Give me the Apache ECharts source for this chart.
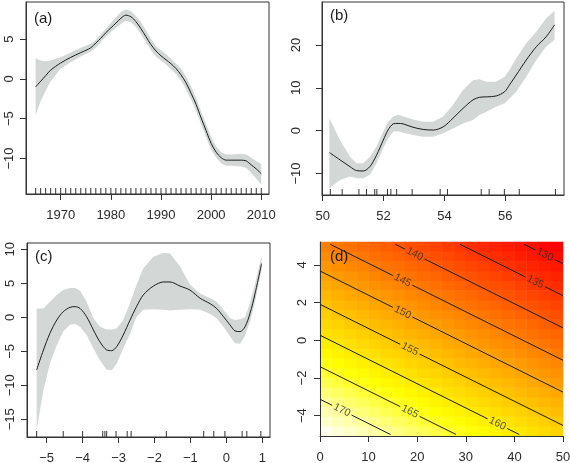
<!DOCTYPE html>
<html><head><meta charset="utf-8">
<script src="https://cdn.jsdelivr.net/npm/echarts@6/dist/echarts.min.js"></script>
<style>html,body{margin:0;padding:0;background:#fff}#c{width:570px;height:463px}</style>
</head><body><div id="c"></div>
<script>
// ---------- Panel (a) ----------
const aYear = [1965,1966,1967,1968,1970,1972,1974,1976,1977,1978,1979,1980,1981,1982,1983,1984,1985,1986,1987,1988,1989,1990,1991,1992,1993,1994,1995,1996,1997,1998,1999,2000,2001,2002,2003,2004,2006,2007,2008,2009,2010];
const aFit  = [-1.0,-0.3,0.4,1.1,2.0,2.7,3.3,3.9,4.5,5.1,5.8,6.4,7.0,7.6,8.0,7.8,7.2,6.3,5.3,4.3,3.5,2.9,2.4,1.9,1.3,0.5,-0.5,-1.8,-3.2,-4.9,-6.5,-8.1,-9.2,-9.9,-10.2,-10.2,-10.2,-10.3,-10.8,-11.3,-11.9];
const aHi   = [2.6,2.3,2.2,2.3,2.7,3.3,3.9,4.4,4.9,5.6,6.3,7.0,7.7,8.4,8.7,8.5,7.9,7.1,6.1,5.0,4.1,3.6,3.1,2.5,1.9,1.3,0.3,-1.0,-2.4,-4.1,-5.7,-7.3,-8.5,-9.2,-9.5,-9.5,-9.4,-9.5,-9.9,-10.3,-10.7];
const aLo   = [-4.5,-2.8,-1.5,-0.3,1.3,2.1,2.8,3.4,3.9,4.6,5.3,5.9,6.4,6.9,7.3,7.1,6.5,5.6,4.6,3.6,2.8,2.3,1.8,1.2,0.6,-0.2,-1.3,-2.6,-4.0,-5.7,-7.3,-8.9,-9.9,-10.6,-10.9,-10.9,-11.0,-11.2,-11.8,-12.5,-13.3];
const aRug  = [1965,1966,1967,1968,1969,1970,1971,1972,1973,1974,1975,1976,1977,1978,1979,1980,1981,1982,1983,1984,1985,1986,1987,1988,1989,1990,1991,1992,1993,1994,1995,1996,1997,1998,1999,2000,2001,2002,2003,2004,2005,2006,2007,2008,2009,2010];
const aXTicks = [1970,1980,1990,2000,2010];
const aYTicks = [-10,-5,0,5];

// ---------- Panel (b) ----------
const bX   = [50.22,50.57,50.9,51.11,51.33,51.55,51.77,51.99,52.15,52.32,52.48,52.64,52.97,53.3,53.63,53.96,54.28,54.61,54.94,55.16,55.38,55.7,55.98,56.14,56.36,56.69,57.02,57.34,57.62];
const bFit = [-5.1,-6.8,-8.4,-9.3,-9.4,-8.4,-5.7,-2.2,0.2,1.6,1.7,1.6,0.8,0.3,0.15,0.9,2.9,5.2,7.2,7.8,7.9,8.1,9.1,10.7,13.0,16.5,19.6,21.9,24.7];
const bHi  = [2.9,-2.2,-6.1,-7.6,-7.6,-6.1,-3.7,-0.2,2.1,3.3,3.7,3.4,2.6,2.1,2.1,3.3,6.0,9.5,11.8,12.0,11.4,11.4,12.6,14.2,16.9,20.4,23.1,26.2,28.0];
const bLo  = [-13.4,-11.5,-10.7,-11.1,-11.1,-10.3,-7.6,-4.1,-1.8,-0.2,-0.1,-0.5,-1.0,-1.4,-1.4,-0.6,0.5,1.7,2.5,3.7,4.4,5.6,6.4,7.5,9.1,12.6,16.5,19.6,21.2];
const bRug = [50.25,50.64,51.19,51.44,51.71,51.78,52.13,52.24,52.43,52.94,53.86,54.10,55.21,55.47,55.97,56.46,57.65];
const bXTicks = [50,52,54,56];
const bYTicks = [-10,0,10,20];

// ---------- Panel (c) ----------
const cX   = [-5.28,-5.09,-4.91,-4.72,-4.54,-4.35,-4.21,-4.07,-3.89,-3.70,-3.52,-3.33,-3.19,-3.05,-2.87,-2.68,-2.50,-2.31,-2.03,-1.75,-1.57,-1.29,-1.01,-0.73,-0.45,-0.27,-0.08,0.10,0.24,0.38,0.52,0.66,0.80,0.98];
const cFit = [-7.75,-4.8,-2.35,-0.4,0.83,1.47,1.57,1.3,0.1,-1.86,-3.6,-4.8,-4.9,-4.3,-2.6,-0.4,1.57,3.3,4.6,5.2,5.2,4.6,4.0,2.8,2.0,1.3,0.1,-1.1,-2.0,-2.1,-1.4,0.6,3.5,7.9];
const cHi  = [1.3,1.3,2.3,3.3,4.0,4.3,4.3,3.9,2.3,-0.15,-1.4,-1.8,-1.8,-1.6,-0.4,2.1,4.8,7.2,8.9,9.5,9.4,7.5,4.8,3.5,2.8,2.3,1.1,-0.15,-0.4,-0.3,0.0,2.1,5.0,9.0];
const cLo  = [-16.6,-10.7,-6.8,-4.1,-2.1,-1.1,-1.0,-1.4,-2.6,-4.6,-6.3,-7.7,-7.8,-6.8,-4.6,-2.4,0.1,1.1,1.2,1.1,1.0,1.1,1.2,1.1,0.5,-0.15,-1.4,-2.8,-3.8,-3.9,-2.7,-0.6,2.3,7.0];
const cRug = [-5.28,-4.54,-4.0,-3.44,-3.38,-3.33,-3.07,-2.76,-2.65,-1.67,-0.63,-0.35,-0.04,0.44,0.57,0.96];
const cXTicks = [-5,-4,-3,-2,-1,0,1];
const cYTicks = [-15,-10,-5,0,5,10];

// ---------- Panel (d) ----------
const dXTicks = [0,10,20,30,40,50];
const dYTicks = [-4,-2,0,2,4];
// surface values, rows from bottom (y = -5) to top (y = 5.2), columns x = 0 .. 50
const dSurface = [
[173.7,172.8,171.9,171.0,170.1,169.2,168.3,167.4,166.5,165.6,164.7,163.8,162.9,162.0,161.1,160.2,159.3,158.4,157.5,156.6],
[172.2,171.3,170.4,169.5,168.6,167.7,166.8,165.9,165.0,164.1,163.2,162.3,161.4,160.5,159.6,158.7,157.8,156.9,156.0,155.1],
[170.7,169.8,168.9,168.0,167.1,166.2,165.3,164.4,163.5,162.6,161.7,160.8,159.9,159.0,158.1,157.2,156.3,155.4,154.5,153.6],
[169.2,168.3,167.4,166.5,165.6,164.7,163.8,162.9,162.0,161.1,160.2,159.3,158.4,157.5,156.6,155.7,154.8,153.9,153.0,152.1],
[167.7,166.8,165.9,165.0,164.1,163.2,162.3,161.4,160.5,159.6,158.7,157.8,156.9,156.0,155.1,154.2,153.3,152.4,151.5,150.6],
[166.2,165.3,164.4,163.5,162.6,161.7,160.8,159.9,159.0,158.1,157.2,156.3,155.4,154.5,153.6,152.7,151.8,150.9,150.0,149.1],
[164.7,163.8,162.9,162.0,161.1,160.2,159.3,158.4,157.5,156.6,155.7,154.8,153.9,153.0,152.1,151.2,150.3,149.4,148.5,147.6],
[163.2,162.3,161.4,160.5,159.6,158.7,157.8,156.9,156.0,155.1,154.2,153.3,152.4,151.5,150.6,149.7,148.8,147.9,147.0,146.1],
[161.7,160.8,159.9,159.0,158.1,157.2,156.3,155.4,154.5,153.6,152.7,151.8,150.9,150.0,149.1,148.2,147.3,146.4,145.5,144.6],
[160.2,159.3,158.4,157.5,156.6,155.7,154.8,153.9,153.0,152.1,151.2,150.3,149.4,148.5,147.6,146.7,145.8,144.9,144.0,143.1],
[158.7,157.8,156.9,156.0,155.1,154.2,153.3,152.4,151.5,150.6,149.7,148.8,147.9,147.0,146.1,145.2,144.3,143.4,142.5,141.6],
[157.2,156.3,155.4,154.5,153.6,152.7,151.8,150.9,150.0,149.1,148.2,147.3,146.4,145.5,144.6,143.7,142.8,141.9,141.0,140.1],
[155.7,154.8,153.9,153.0,152.1,151.2,150.3,149.4,148.5,147.6,146.7,145.8,144.9,144.0,143.1,142.2,141.3,140.4,139.5,138.6],
[154.2,153.3,152.4,151.5,150.6,149.7,148.8,147.9,147.0,146.1,145.2,144.3,143.4,142.5,141.6,140.7,139.8,138.9,138.0,137.1],
[152.7,151.8,150.9,150.0,149.1,148.2,147.3,146.4,145.5,144.6,143.7,142.8,141.9,141.0,140.1,139.2,138.3,137.4,136.5,135.6],
[151.2,150.3,149.4,148.5,147.6,146.7,145.8,144.9,144.0,143.1,142.2,141.3,140.4,139.5,138.6,137.7,136.8,135.9,135.0,134.1],
[149.7,148.8,147.9,147.0,146.1,145.2,144.3,143.4,142.5,141.6,140.7,139.8,138.9,138.0,137.1,136.2,135.3,134.4,133.5,132.6],
[148.2,147.3,146.4,145.5,144.6,143.7,142.8,141.9,141.0,140.1,139.2,138.3,137.4,136.5,135.6,134.7,133.8,132.9,132.0,131.1],
[146.7,145.8,144.9,144.0,143.1,142.2,141.3,140.4,139.5,138.6,137.7,136.8,135.9,135.0,134.1,133.2,132.3,131.4,130.5,129.6],
[145.2,144.3,143.4,142.5,141.6,140.7,139.8,138.9,138.0,137.1,136.2,135.3,134.4,133.5,132.6,131.7,130.8,129.9,129.0,128.1]
];
const dLevels  = [130,135,140,145,150,155,160,165,170];
const dStart   = [[42.0,5.1],[28.8,5.1],[15.5,5.1],[2.1,5.1],[0,3.68],[0,1.91],[0,0.27],[0,-1.40],[0,-3.13]];
const dGapFrom = [[44.3,4.80],[42.3,3.36],[17.5,4.84],[15.0,3.44],[15.0,1.75],[16.5,-0.21],[34.5,-4.17],[16.5,-3.52],[2.5,-3.45]];
const dLabelAt = [[46.3,4.55],[44.3,3.10],[19.5,4.58],[17.0,3.18],[17.0,1.49],[18.5,-0.47],[36.5,-4.42],[18.5,-3.78],[4.5,-3.71]];
const dGapTo   = [[48.3,4.29],[46.3,2.85],[21.5,4.32],[19.0,2.93],[19.0,1.24],[20.5,-0.73],[38.5,-4.68],[20.5,-4.04],[6.5,-3.97]];
const dEnd     = [[50,4.07],[50,2.37],[50,0.66],[50,-1.06],[50,-2.75],[50,-4.52],[41.0,-5.0],[28.0,-5.0],[14.5,-5.0]];
const panelLabels = ['(a)','(b)','(c)','(d)'];

// ---------- styling ----------
const FONT = "'Liberation Sans', Arial, sans-serif";
const INK = '#333333';
const TXT = '#2a2a2a';
const BAND = '#d3d7d6';
const LINE = '#1c1c1c';
const HEAT = ['#FF0000','#FF2A00','#FF5500','#FF8000','#FFAA00','#FFD500','#FFFF00','#FFFF80','#FFFFF2'];
const fmt = v => String(v).replace('-', '\u2212');

const grids = [
  {left:26, top:2, width:243, height:192},
  {left:322, top:2, width:242, height:193},
  {left:27, top:243, width:243, height:194},
  {left:320, top:242, width:243, height:194},
  {left:320, top:242, width:243, height:194}
].map((g,i) => Object.assign(g, {show: i < 3, borderColor: INK, borderWidth: 1, backgroundColor:'transparent', containLabel:false, outerBoundsMode:'none'}));

function xAx(g, min, max, ticks) {
  return {type:'value', gridIndex:g, min, max, position:'bottom',
    axisLine:{show:true, onZero:false, lineStyle:{color:INK, width:1}},
    axisTick:{show:true, inside:false, length:6, customValues:ticks, lineStyle:{color:INK}},
    axisLabel:{show:true, customValues:ticks, margin:15, fontSize:13, fontFamily:FONT, color:TXT, formatter:fmt},
    splitLine:{show:false}};
}
function yAx(g, min, max, ticks, margin) {
  return {type:'value', gridIndex:g, min, max, position:'left',
    axisLine:{show:true, onZero:false, lineStyle:{color:INK, width:1}},
    axisTick:{show:true, inside:false, length:6, customValues:ticks, lineStyle:{color:INK}},
    axisLabel:{show:true, customValues:ticks, margin:margin, rotate:90, fontSize:13, fontFamily:FONT, color:TXT, formatter:fmt},
    splitLine:{show:false}};
}
const catIdx = n => Array.from({length:n}, (_, i) => String(i));

const xAxis = [
  xAx(0, 1963.08, 2011.54, aXTicks),
  xAx(1, 49.977, 57.93, bXTicks),
  xAx(2, -5.548, 1.215, cXTicks),
  xAx(3, 0, 50, dXTicks),
  {type:'category', gridIndex:4, data:catIdx(dSurface[0].length), show:false}
];
const yAxis = [
  yAx(0, -14.45, 9.65, aYTicks, 10),
  yAx(1, -15.0, 30.03, bYTicks, 19),
  yAx(2, -17.6, 10.93, cYTicks, 10),
  yAx(3, -5.08, 5.22, dYTicks, 11),
  {type:'category', gridIndex:4, data:catIdx(dSurface.length), show:false}
];

function bandSeries(g, xs, lo, hi) {
  return {type:'custom', xAxisIndex:g, yAxisIndex:g, silent:true, clip:true, z:1,
    data:[[xs[0], lo[0]]],
    renderItem:(params, api) => {
      const pts = [];
      for (let i = 0; i < xs.length; i++) pts.push(api.coord([xs[i], hi[i]]));
      for (let i = xs.length - 1; i >= 0; i--) pts.push(api.coord([xs[i], lo[i]]));
      return {type:'polygon', shape:{points:pts}, style:{fill:BAND, stroke:null}};
    }};
}
function fitSeries(g, xs, ys) {
  return {type:'line', xAxisIndex:g, yAxisIndex:g, silent:true, z:3, smooth:0.3, showSymbol:false, symbol:'none',
    data: xs.map((x, i) => [x, ys[i]]), lineStyle:{color:LINE, width:1}};
}
function rugSeries(g, xs) {
  return {type:'custom', xAxisIndex:g, yAxisIndex:g, silent:true, clip:false, z:4,
    data: xs.map(x => [x, 0]), encode:{x:0, y:1},
    renderItem:(params, api) => {
      const p = api.coord([api.value(0), api.value(1)]);
      const cs = params.coordSys;
      const yb = cs.y + cs.height;
      return {type:'line', shape:{x1:p[0], y1:yb, x2:p[0], y2:yb - 6}, style:{stroke:INK, lineWidth:1}};
    }};
}

const heatData = [];
dSurface.forEach((row, k) => row.forEach((v, j) => heatData.push([j, k, v])));

const contourSegs = [];
dLevels.forEach((lv, i) => {
  contourSegs.push({coords:[dStart[i], dGapFrom[i]]});
  contourSegs.push({coords:[dGapTo[i], dEnd[i]]});
});

const series = [
  {type:'heatmap', xAxisIndex:4, yAxisIndex:4, data:heatData, silent:true, z:0, itemStyle:{borderWidth:0}, emphasis:{disabled:true}},
  bandSeries(0, aYear, aLo, aHi), fitSeries(0, aYear, aFit), rugSeries(0, aRug),
  bandSeries(1, bX, bLo, bHi), fitSeries(1, bX, bFit), rugSeries(1, bRug),
  bandSeries(2, cX, cLo, cHi), fitSeries(2, cX, cFit), rugSeries(2, cRug),
  {type:'lines', coordinateSystem:'cartesian2d', xAxisIndex:3, yAxisIndex:3, polyline:true, silent:true, z:3,
    data:contourSegs, lineStyle:{color:LINE, width:1, opacity:1}},
  {type:'scatter', xAxisIndex:3, yAxisIndex:3, silent:true, z:4, symbolSize:0, data:dLabelAt,
    label:{show:true, position:'inside', formatter:p => String(dLevels[p.dataIndex]), rotate:-26.6,
      fontSize:10.5, fontFamily:FONT, color:'#2a2a2a'}}
];

const titlePos = [[34,11],[330,8],[35,249],[330,249]];
const title = panelLabels.map((t, i) => ({text:t, left:titlePos[i][0], top:titlePos[i][1], padding:0,
  textStyle:{fontSize:15, fontWeight:'normal', fontFamily:FONT, color:'#1a1a1a'}}));

const chart = echarts.init(document.getElementById('c'), null, {renderer:'canvas', width:570, height:463});
chart.setOption({
  animation:false,
  backgroundColor:'#ffffff',
  title, grid:grids, xAxis, yAxis,
  visualMap:{type:'continuous', show:false, min:128, max:174, dimension:2, seriesIndex:0, inRange:{color:HEAT}},
  series
});
</script></body></html>
